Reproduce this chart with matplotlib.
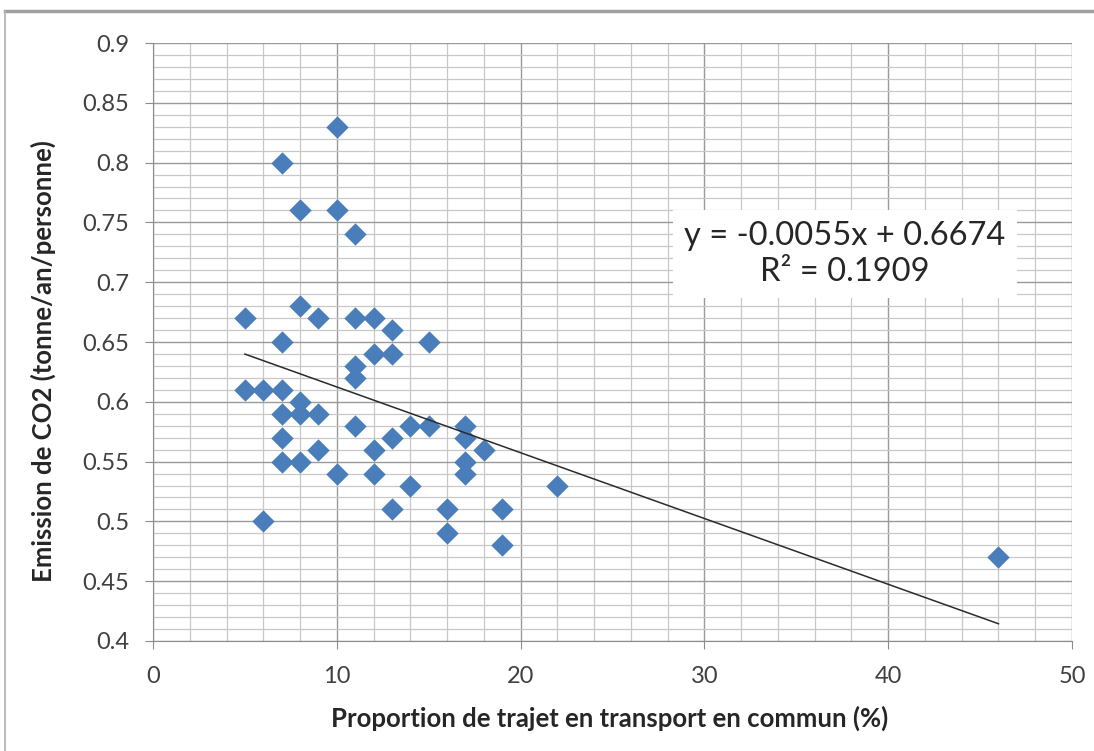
import matplotlib.pyplot as plt
from matplotlib.lines import Line2D
from matplotlib.ticker import MultipleLocator

plt.rcParams['font.family'] = ['Lato', 'DejaVu Sans']

# proportion of trips by public transport (%) and CO2 emission (t/yr/person)
share = [5, 5, 6, 6, 7, 7, 7, 7, 7, 7, 8, 8, 8, 8, 8, 9, 9, 9,
         10, 10, 10, 11, 11, 11, 11, 11, 12, 12, 12, 12, 13, 13, 13, 13,
         14, 14, 15, 15, 16, 16, 17, 17, 17, 17, 18, 19, 19, 22, 46]
emission = [0.67, 0.61, 0.61, 0.50, 0.80, 0.65, 0.61, 0.59, 0.57, 0.55,
            0.76, 0.68, 0.60, 0.59, 0.55, 0.67, 0.59, 0.56,
            0.83, 0.76, 0.54, 0.74, 0.67, 0.63, 0.62, 0.58,
            0.67, 0.64, 0.56, 0.54, 0.66, 0.64, 0.57, 0.51,
            0.58, 0.53, 0.65, 0.58, 0.51, 0.49, 0.58, 0.57, 0.55, 0.54,
            0.56, 0.51, 0.48, 0.53, 0.47]

slope = -0.0055
intercept = 0.6674
r2 = 0.1909
trend_x = [min(share), max(share)]
trend_y = [slope * x + intercept for x in trend_x]

fig = plt.figure(figsize=(10.94, 7.51), dpi=100)
ax = fig.add_axes([0.1399, 0.1465, 0.8400, 0.7962])

ax.set_xlim(0, 50)
ax.set_ylim(0.4, 0.9)
ax.xaxis.set_major_locator(MultipleLocator(10))
ax.xaxis.set_minor_locator(MultipleLocator(2))
ax.yaxis.set_major_locator(MultipleLocator(0.05))
ax.yaxis.set_minor_locator(MultipleLocator(0.01))
ax.grid(which='major', color='#9a9a9a', lw=1.0)
ax.grid(which='minor', color='#c8c8c8', lw=0.9)
ax.set_axisbelow(True)
ax.tick_params(which='major', direction='out', length=6, color='#8c8c8c',
               labelsize=17, labelcolor='#404040')
ax.tick_params(axis='x', which='major', pad=12)
ax.tick_params(axis='y', which='major', pad=11)
ax.tick_params(which='minor', length=0)
ax.set_yticks([0.4 + 0.05 * i for i in range(11)])
ax.set_yticklabels(['0.4', '0.45', '0.5', '0.55', '0.6', '0.65', '0.7',
                    '0.75', '0.8', '0.85', '0.9'])
for s in ['top', 'right']:
    ax.spines[s].set_visible(False)
for s in ['left', 'bottom']:
    ax.spines[s].set_color('#8c8c8c')

ax.scatter(share, emission, marker='D', s=130, color='#4a7ebb', zorder=3,
           linewidths=0)
ax.plot(trend_x, trend_y, color='#2b2b2b', lw=1.1, zorder=4)

ax.text(0.753, 0.647, 'y = -0.0055x + 0.6674\nR² = %.4f' % r2,
        transform=ax.transAxes, ha='center', va='center', fontsize=23.5,
        color='#262626', linespacing=1.25, zorder=5,
        bbox=dict(facecolor='white', edgecolor='none', pad=8))

ax.set_xlabel('Proportion de trajet en transport en commun (%)',
              fontsize=18.5, fontweight='bold', color='#262626')
ax.set_ylabel('Emission de CO2 (tonne/an/personne)',
              fontsize=18.5, fontweight='bold', color='#262626')
ax.xaxis.set_label_coords(0.497, -0.130)
ax.xaxis.label.set_va('center')
ax.yaxis.set_label_coords(-0.119, 0.468)
ax.yaxis.label.set_va('center')

# outer chart frame
fig.add_artist(Line2D([0.0046, 1.0], [0.986, 0.986], color='#a0a0a0', lw=2.5))
fig.add_artist(Line2D([0.0046, 0.0046], [0.0, 0.986], color='#b0b0b0', lw=1.2))

fig.savefig('out.png', dpi=100)
